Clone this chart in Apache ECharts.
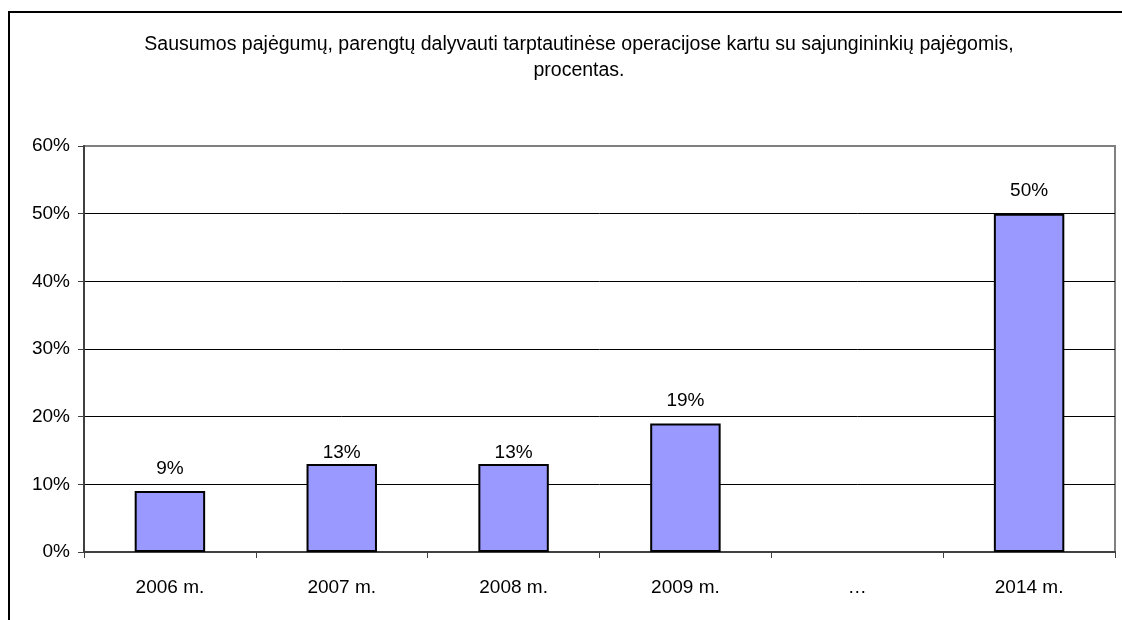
<!DOCTYPE html>
<html>
<head>
<meta charset="utf-8">
<script src="https://cdn.jsdelivr.net/npm/echarts@6/dist/echarts.min.js"></script>
<style>
  html, body { margin: 0; padding: 0; background: #fff; }
  #chart { width: 1122px; height: 620px; }
</style>
</head>
<body>
<div id="chart"></div>
<script>
// duomenys
var categories = ["2006 m.", "2007 m.", "2008 m.", "2009 m.", "\u2026", "2014 m."];
var values = [9, 13, 13, 19, null, 50];
var yTicks = [0, 10, 20, 30, 40, 50, 60];
var titleText =
  "Sausumos pajėgumų, parengtų dalyvauti tarptautinėse operacijose kartu su sajungininkių pajėgomis,\nprocentas.";

var myChart = echarts.init(document.getElementById("chart"));

var font = "Liberation Sans, Arial, sans-serif";

// 13% etiketės originale prispaustos prie stulpelio
var tightLabel = [false, true, true, false, false, false];

var barData = values.map(function (v, i) {
  if (tightLabel[i]) {
    return { value: v, label: { distance: 2 } };
  }
  return v;
});

var option = {
  backgroundColor: "#fff",
  animation: false,
  title: {
    text: titleText,
    left: 574,
    top: 27,
    textAlign: "center",
    textStyle: {
      fontFamily: font,
      fontSize: 19.5,
      fontWeight: "normal",
      color: "#000",
      lineHeight: 26
    }
  },
  graphic: [
    {
      type: "rect",
      shape: { x: 9, y: 12, width: 1200, height: 700 },
      style: { fill: "none", stroke: "#000", lineWidth: 2 },
      silent: true
    }
  ],
  grid: {
    left: 84,
    right: 7,
    top: 146,
    bottom: 68,
    show: true,
    borderColor: "#808080",
    borderWidth: 2,
    backgroundColor: "#fff"
  },
  xAxis: {
    type: "category",
    data: categories,
    axisLine: { lineStyle: { color: "#404040", width: 2 } },
    axisTick: {
      show: true,
      alignWithLabel: false,
      length: 6,
      lineStyle: { color: "#404040", width: 1 }
    },
    axisLabel: {
      fontFamily: font,
      fontSize: 19,
      color: "#000",
      margin: 26
    }
  },
  yAxis: {
    type: "value",
    min: yTicks[0],
    max: yTicks[yTicks.length - 1],
    interval: 10,
    axisLine: { show: true, lineStyle: { color: "#404040", width: 2 } },
    axisTick: { show: true, length: 6, lineStyle: { color: "#404040" } },
    axisLabel: {
      fontFamily: font,
      fontSize: 19,
      color: "#000",
      margin: 14,
      formatter: "{value}%"
    },
    splitLine: {
      show: true,
      lineStyle: {
        color: ["#000", "#000", "#000", "#000", "#000", "#000", "#808080"],
        width: 1
      }
    }
  },
  series: [
    {
      type: "bar",
      data: barData,
      barWidth: "41%",
      itemStyle: {
        color: "#9999FF",
        borderColor: "#000",
        borderWidth: 2
      },
      label: {
        show: true,
        position: "top",
        distance: 13,
        fontFamily: font,
        fontSize: 19,
        color: "#000",
        formatter: "{c}%"
      }
    }
  ]
};

myChart.setOption(option);
</script>
</body>
</html>
